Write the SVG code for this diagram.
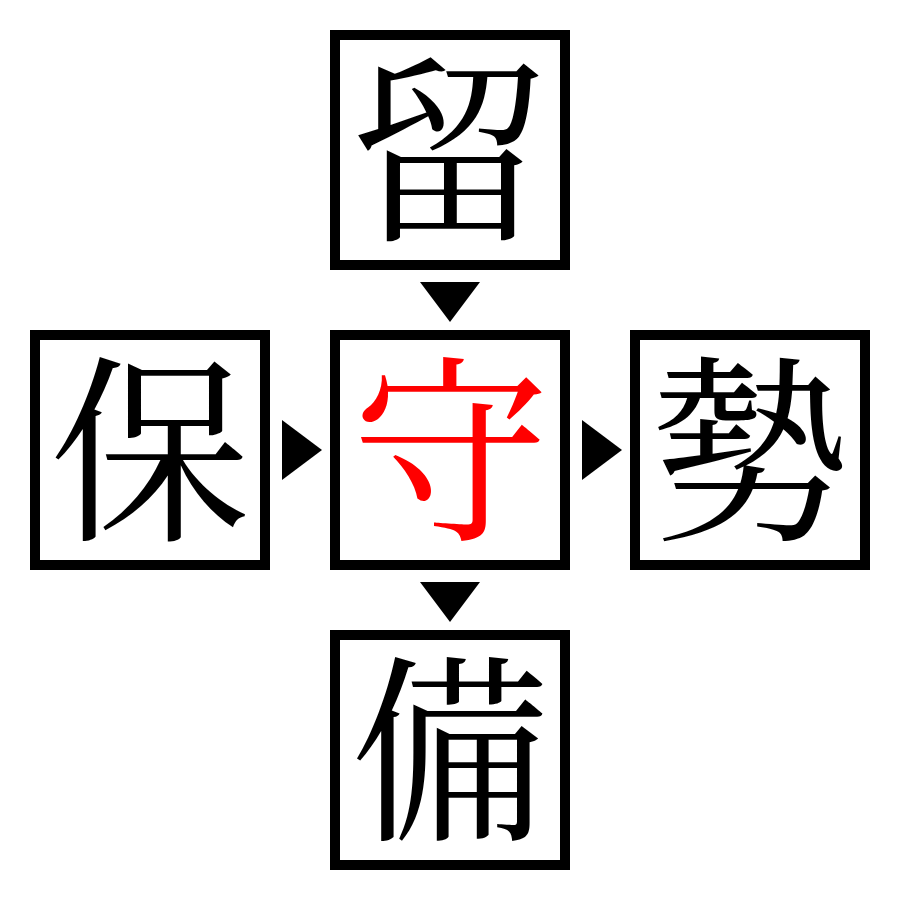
<svg xmlns="http://www.w3.org/2000/svg" width="900" height="900" viewBox="0 0 900 900">
<style>
.box{fill:#fff;stroke:#000;stroke-width:10}
.ch{font-family:"Noto Serif CJK JP","Noto Sans CJK JP",serif;font-size:200px;text-anchor:middle;fill:#000}
.red{fill:#f00}
.arr{fill:#000}
</style>
<rect width="900" height="900" fill="#fff"/>
<g id="connectors">
<polygon class="arr" points="420,282 480,282 450,322"/>
<polygon class="arr" points="420,582 480,582 450,622"/>
<polygon class="arr" points="282,420 282,480 322,450"/>
<polygon class="arr" points="582,420 582,480 622,450"/>
</g>
<g id="node-top"><rect class="box" x="335" y="35" width="230" height="230"/><text class="ch" x="450" y="225">留</text></g>
<g id="node-left"><rect class="box" x="35" y="335" width="230" height="230"/><text class="ch" x="150" y="525">保</text></g>
<g id="node-center"><rect class="box" x="335" y="335" width="230" height="230"/><text class="ch red" x="450" y="525">守</text></g>
<g id="node-right"><rect class="box" x="635" y="335" width="230" height="230"/><text class="ch" x="750" y="525">勢</text></g>
<g id="node-bottom"><rect class="box" x="335" y="635" width="230" height="230"/><text class="ch" x="450" y="825">備</text></g>
</svg>
